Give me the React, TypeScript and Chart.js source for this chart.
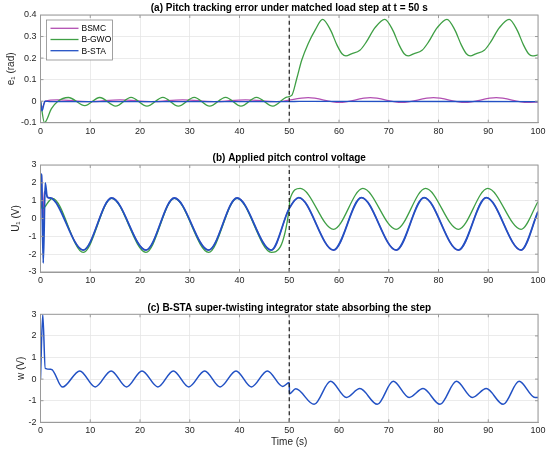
import { useEffect, useRef } from "react";
import { Chart, registerables } from "chart.js";

Chart.register(...registerables);

const FONT = "'Liberation Sans', Arial, Helvetica, sans-serif";
const STEP_T = 50;

const C_BSMC = "#b24fb2";
const C_GWO = "#3f9f45";
const C_STA = "#2251c4";
const GRID_COLOR = "#e6e6e6";
const AXIS_COLOR = "#9a9a9a";
const TICK_COLOR = "#262626";

// tick labels
const tTicks = [0, 10, 20, 30, 40, 50, 60, 70, 80, 90, 100];
const errTicks = [-0.1, 0, 0.1, 0.2, 0.3, 0.4];
const voltTicks = [-3, -2, -1, 0, 1, 2, 3];
const wTicks = [-2, -1, 0, 1, 2, 3];

// (a) pitch tracking error e1 (rad)
const bsmcErrT = [0, 0.3, 1.0, 3.4, 9.7, 16.0, 22.3, 28.6, 34.9, 41.2, 47.5, 53.8, 60.1, 66.3, 72.6, 79.0, 85.3, 91.6, 97.9, 100];
const bsmcErr = [0, -0.03, 0.0, 0.006, -0.002, 0.006, -0.002, 0.006, -0.002, 0.006, -0.002, 0.016, -0.006, 0.016, -0.006, 0.016, -0.006, 0.016, -0.006, -0.004];

const gwoErrT = [0, 0.8, 2.2, 3.5, 5.6, 8.9, 11.9, 15.1, 18.2, 21.4, 24.6, 27.7, 30.9, 34.0, 37.2, 40.3, 43.4, 46.7, 49.5, 50.5, 51.5, 52.5, 53.8, 55.2, 56.7, 58.3, 59.6, 60.6, 61.4, 62.5, 64.2, 65.5, 67.2, 69.2, 70.8, 72.1, 73.1, 73.9, 75.0, 76.7, 78.0, 79.7, 81.7, 83.3, 84.6, 85.6, 86.4, 87.5, 89.2, 90.5, 92.2, 94.2, 95.8, 97.1, 98.1, 98.9, 100];
const gwoErr = [0, -0.1, -0.035, 0.0, 0.017, -0.021, 0.017, -0.023, 0.018, -0.023, 0.018, -0.023, 0.018, -0.023, 0.018, -0.023, 0.018, -0.023, 0.019, 0.027, 0.104, 0.19, 0.267, 0.33, 0.38, 0.33, 0.26, 0.22, 0.21, 0.22, 0.236, 0.275, 0.34, 0.38, 0.33, 0.26, 0.22, 0.21, 0.22, 0.236, 0.275, 0.34, 0.38, 0.33, 0.26, 0.22, 0.21, 0.22, 0.236, 0.275, 0.34, 0.38, 0.33, 0.26, 0.22, 0.21, 0.215];

const staErrT = [0, 0.3, 0.9, 2.0, 50.0, 52.0, 100];
const staErr = [0, -0.045, 0.0, -0.002, -0.002, -0.001, -0.002];

// (b) applied pitch control voltage U1 (V)
const bsmcUT = [0, 0.2, 0.45, 0.75, 1.1, 1.6, 2.0, 8.6, 14.3, 21.2, 26.9, 33.8, 39.5, 46.4, 50.0, 51.9, 58.9, 64.5, 71.5, 77.1, 84.0, 89.6, 96.6, 100];
const bsmcU = [2.5, 2.4, -0.5, 1.5, 1.4, 1.15, 1.15, -1.77, 1.15, -1.77, 1.15, -1.77, 1.15, -1.77, 0.57, 1.17, -1.77, 1.17, -1.77, 1.17, -1.77, 1.17, -1.77, 0.38];

const gwoUT = [0, 0.35, 0.9, 1.6, 2.4, 8.6, 14.3, 21.2, 26.9, 33.8, 39.5, 46.4, 50.0, 50.1, 52.2, 58.9, 64.8, 71.5, 77.4, 84.0, 89.9, 96.6, 100];
const gwoU = [1.0, 0.55, 0.66, 0.94, 1.13, -1.9, 1.13, -1.9, 1.13, -1.9, 1.13, -1.9, 0.57, 1.04, 1.69, -0.61, 1.69, -0.61, 1.69, -0.61, 1.69, -0.61, 0.94];

const staUT = [0, 0.2, 0.55, 0.95, 1.35, 2.0, 8.6, 14.3, 21.2, 26.9, 33.8, 39.5, 46.4, 50.0, 51.9, 58.9, 64.5, 71.5, 77.1, 84.0, 89.6, 96.6, 100];
const staU = [2.5, 2.45, -2.5, 2.0, 1.2, 1.15, -1.77, 1.15, -1.77, 1.15, -1.77, 1.15, -1.77, 0.57, 1.17, -1.77, 1.17, -1.77, 1.17, -1.77, 1.17, -1.77, 0.38];

// (c) B-STA integrator state w (V)
const staWT = [0, 0.45, 0.95, 2.2, 4.4, 7.9, 11.0, 14.2, 17.3, 20.4, 23.6, 26.7, 29.8, 33.0, 36.1, 39.3, 42.4, 45.6, 48.7, 50.0, 50.05, 51.3, 55.0, 58.3, 61.5, 64.2, 67.7, 70.9, 74.1, 76.9, 80.3, 83.6, 86.8, 89.6, 93.0, 96.2, 99.4, 100];
const staW = [0, 3.0, 0.5, 0.45, -0.37, 0.38, -0.36, 0.38, -0.36, 0.38, -0.36, 0.38, -0.36, 0.38, -0.36, 0.38, -0.36, 0.38, -0.34, -0.16, -0.68, -0.45, -1.17, -0.1, -0.85, -0.44, -1.17, -0.1, -0.85, -0.44, -1.17, -0.1, -0.85, -0.44, -1.17, -0.1, -0.85, -0.85];

type Line = { label: string; t: number[]; v: number[]; color: string; width: number; order: number };

type PanelProps = {
  top: number;
  height: number;
  plotTop: number;
  plotBottom: number;
  title: string;
  yLabel: string;
  yLabelPad: number;
  yTicks: number[];
  xLabel?: string;
  legend?: boolean;
  lines: Line[];
};

function makeSeries(t: number[], v: number[]) {
  return t.map((x, i) => ({ x, y: v[i] }));
}

function Panel(props: PanelProps) {
  const canvasRef = useRef<HTMLCanvasElement>(null);

  useEffect(() => {
    const ctx = canvasRef.current?.getContext("2d");
    if (!ctx) return;
    const p = props;
    const yMin = p.yTicks[0];
    const yMax = p.yTicks[p.yTicks.length - 1];

    const datasets: any[] = p.lines.map((l) => ({
      label: l.label,
      data: makeSeries(l.t, l.v),
      borderColor: l.color,
      borderWidth: l.width,
      pointRadius: 0,
      cubicInterpolationMode: "monotone",
      order: l.order,
      fill: false,
    }));
    // load step marker
    datasets.push({
      label: "step",
      data: [
        { x: STEP_T, y: yMin },
        { x: STEP_T, y: yMax },
      ],
      borderColor: "#1a1a1a",
      borderWidth: 1.2,
      borderDash: [4, 3],
      pointRadius: 0,
      tension: 0,
      order: -1,
    });

    const decor = {
      id: "decor",
      afterDraw(chart: Chart) {
        const c = chart.ctx;
        const a = chart.chartArea;
        const sx: any = chart.scales.x;
        const sy: any = chart.scales.y;
        c.save();
        c.strokeStyle = AXIS_COLOR;
        c.lineWidth = 1;
        c.strokeRect(a.left, a.top, a.right - a.left, a.bottom - a.top);

        // small inward tick marks on all four sides
        c.beginPath();
        tTicks.slice(1, -1).forEach((v) => {
          const px = sx.getPixelForValue(v);
          c.moveTo(px, a.bottom);
          c.lineTo(px, a.bottom - 3);
          c.moveTo(px, a.top);
          c.lineTo(px, a.top + 3);
        });
        p.yTicks.slice(1, -1).forEach((v) => {
          const py = sy.getPixelForValue(v);
          c.moveTo(a.left, py);
          c.lineTo(a.left + 3, py);
          c.moveTo(a.right, py);
          c.lineTo(a.right - 3, py);
        });
        c.stroke();

        c.fillStyle = "#000";
        c.font = `bold 10px ${FONT}`;
        c.textAlign = "center";
        c.textBaseline = "middle";
        c.fillText(p.title, (a.left + a.right) / 2, a.top - 6.5);

        if (p.legend) {
          const bx = a.left + 6;
          const by = a.top + 5;
          c.fillStyle = "#fff";
          c.fillRect(bx, by, 66, 40);
          c.strokeStyle = "#8a8a8a";
          c.lineWidth = 0.8;
          c.strokeRect(bx, by, 66, 40);
          c.font = `8.5px ${FONT}`;
          c.textAlign = "left";
          p.lines.forEach((l, i) => {
            const yy = by + 8.3 + i * 11.2;
            c.strokeStyle = l.color;
            c.lineWidth = 1.3;
            c.beginPath();
            c.moveTo(bx + 4, yy);
            c.lineTo(bx + 32, yy);
            c.stroke();
            c.fillStyle = "#000";
            c.fillText(l.label, bx + 35, yy + 0.5);
          });
        }
        c.restore();
      },
    };

    const chart = new Chart(ctx, {
      type: "line",
      data: { datasets },
      options: {
        animation: false,
        responsive: true,
        maintainAspectRatio: false,
        events: [],
        layout: { padding: { top: p.plotTop - p.top, right: 12, bottom: 0, left: 0 } },
        plugins: { legend: { display: false }, tooltip: { enabled: false }, title: { display: false } },
        scales: {
          x: {
            type: "linear",
            min: 0,
            max: 100,
            afterBuildTicks: (s: any) => {
              s.ticks = tTicks.map((value) => ({ value }));
            },
            afterFit: (s: any) => {
              s.height = p.top + p.height - p.plotBottom;
            },
            ticks: {
              color: TICK_COLOR,
              font: { family: FONT, size: 9 },
              padding: 3,
              maxRotation: 0,
              autoSkip: false,
              callback: (v: any) => String(v),
            },
            grid: { color: GRID_COLOR, drawTicks: false, lineWidth: 0.8 },
            border: { color: AXIS_COLOR, width: 1 },
            title: {
              display: !!p.xLabel,
              text: p.xLabel || "",
              color: TICK_COLOR,
              font: { family: FONT, size: 10 },
              padding: { top: 0, bottom: 5 },
            },
          },
          y: {
            type: "linear",
            min: yMin,
            max: yMax,
            afterBuildTicks: (s: any) => {
              s.ticks = p.yTicks.map((value) => ({ value }));
            },
            afterFit: (s: any) => {
              s.width = 40.5;
            },
            ticks: {
              color: TICK_COLOR,
              font: { family: FONT, size: 9 },
              padding: 4,
              autoSkip: false,
              callback: (v: any) => String(Math.round(v * 10) / 10),
            },
            grid: { color: GRID_COLOR, drawTicks: false, lineWidth: 0.8 },
            border: { color: AXIS_COLOR, width: 1 },
            title: {
              display: true,
              text: p.yLabel,
              color: TICK_COLOR,
              font: { family: FONT, size: 10 },
              padding: { top: p.yLabelPad, bottom: 0 },
            },
          },
        },
      },
      plugins: [decor],
    } as any);

    return () => chart.destroy();
  }, []);

  return (
    <div style={{ position: "absolute", left: 0, top: props.top, width: 550, height: props.height }}>
      <canvas ref={canvasRef} />
    </div>
  );
}

export default function App() {
  return (
    <div style={{ position: "absolute", left: 0, top: 0, width: 550, height: 453, background: "#fff" }}>
      <Panel
        top={0}
        height={145}
        plotTop={15}
        plotBottom={122.7}
        title="(a) Pitch tracking error under matched load step at t = 50 s"
        yLabel="e₁ (rad)"
        yLabelPad={5}
        yTicks={errTicks}
        legend
        lines={[
          { label: "BSMC", t: bsmcErrT, v: bsmcErr, color: C_BSMC, width: 1.3, order: 3 },
          { label: "B-GWO", t: gwoErrT, v: gwoErr, color: C_GWO, width: 1.3, order: 2 },
          { label: "B-STA", t: staErrT, v: staErr, color: C_STA, width: 1.4, order: 1 },
        ]}
      />
      <Panel
        top={145}
        height={150}
        plotTop={165}
        plotBottom={272}
        title="(b) Applied pitch control voltage"
        yLabel="U₁ (V)"
        yLabelPad={10}
        yTicks={voltTicks}
        lines={[
          { label: "BSMC", t: bsmcUT, v: bsmcU, color: C_BSMC, width: 1.3, order: 3 },
          { label: "B-GWO", t: gwoUT, v: gwoU, color: C_GWO, width: 1.3, order: 2 },
          { label: "B-STA", t: staUT, v: staU, color: C_STA, width: 1.8, order: 1 },
        ]}
      />
      <Panel
        top={295}
        height={158}
        plotTop={314.3}
        plotBottom={422.3}
        title="(c) B-STA super-twisting integrator state absorbing the step"
        yLabel="w (V)"
        yLabelPad={15}
        yTicks={wTicks}
        xLabel="Time (s)"
        lines={[{ label: "B-STA", t: staWT, v: staW, color: C_STA, width: 1.5, order: 1 }]}
      />
    </div>
  );
}
